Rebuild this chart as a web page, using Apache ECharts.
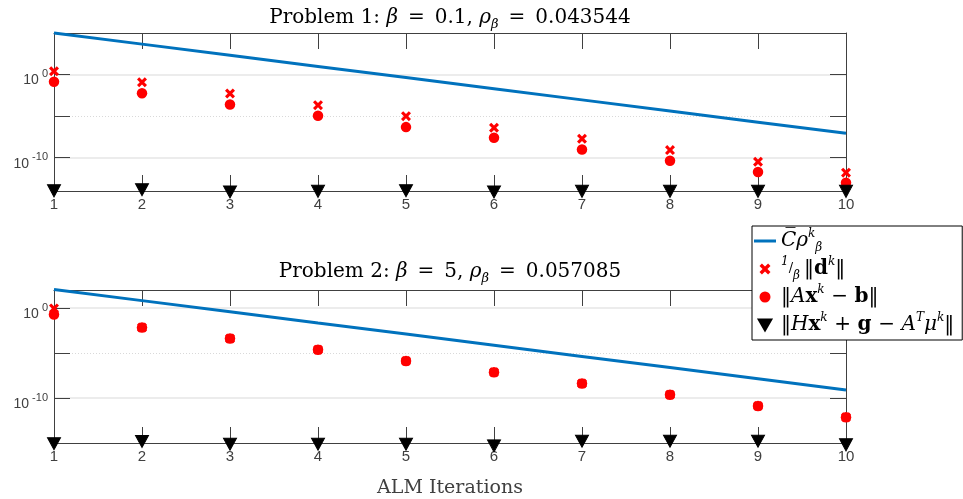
<!DOCTYPE html>
<html><head><meta charset="utf-8">
<script src="https://cdn.jsdelivr.net/npm/echarts@6/dist/echarts.min.js"></script>
<style>html,body{margin:0;padding:0;background:#fff}#c{width:963px;height:499px}</style>
</head><body><div id="c"></div>
<script>
// ---- data ----
const iterations = [1, 2, 3, 4, 5, 6, 7, 8, 9, 10];
const xTickValues = [1, 2, 3, 4, 5, 6, 7, 8, 9, 10];

// Problem 1 (beta = 0.1, rho = 0.043544)
const p1Bound = [1.0e5, 4.6e3, 2.1e2, 9.5, 0.44, 2.0e-2, 9.1e-4, 4.2e-5, 1.9e-6, 8.7e-8];
const p1Dual  = [2.5, 1.2e-1, 5.2e-3, 2.1e-4, 1.0e-5, 4.0e-7, 1.9e-8, 8.3e-10, 3.3e-11, 1.6e-12];
const p1Feas  = [1.4e-1, 5.8e-3, 2.5e-4, 1.1e-5, 4.8e-7, 2.5e-8, 1.0e-9, 4.4e-11, 1.9e-12, 1.0e-13];
const p1Stat  = [1.05e-14, 1.4e-14, 7.6e-15, 9.1e-15, 1.1e-14, 7.6e-15, 9.1e-15, 9.1e-15, 9.1e-15, 9.1e-15];

// Problem 2 (beta = 5, rho = 0.057085)
const p2Bound = [1.15e2, 6.6, 3.8e-1, 2.2e-2, 1.3e-3, 7.2e-5, 4.2e-6, 2.4e-7, 1.4e-8, 7.9e-10];
const p2Dual  = [0.9, 6.6e-3, 4.0e-4, 2.3e-5, 1.3e-6, 7.2e-8, 4.1e-9, 2.3e-10, 1.3e-11, 7.2e-13];
const p2Feas  = [1.9e-1, 6.6e-3, 4.0e-4, 2.3e-5, 1.3e-6, 7.2e-8, 4.1e-9, 2.3e-10, 1.3e-11, 7.2e-13];
const p2Stat  = [8.5e-16, 1.45e-15, 7.2e-16, 7.2e-16, 7.2e-16, 4.8e-16, 1.6e-15, 1.6e-15, 1.6e-15, 6.3e-16];

const yRange1 = [1e-14, 1e5];
const yRange2 = [1e-15, 1e2];
const yTicks1 = [1e-10, 1e-5, 1, 1e5];
const yTicks2 = [1e-15, 1e-10, 1e-5, 1];
const yLabels = [1e-10, 1];
const ySolidGrid = [1e-10, 1];
const yDottedGrid = [1e-5];

const titles = [
  'Problem 1: {it|β}\u2002=\u20020.1, {it|ρ}{sub|β}\u2002=\u20020.043544',
  'Problem 2: {it|β}\u2002=\u20025, {it|ρ}{sub|β}\u2002=\u20020.057085'
];
const seriesNames = ['bound', 'dual', 'feas', 'stat'];
const legendLabels = {
  bound: '{ov|C\u0305}{it|ρ}{sup|k}{sub|β}',
  dual: '{sup|1}{fr|/}{sub|β}\u2009‖{bd|d}{sup|k}‖',
  feas: '‖{it|A}{bd|x}{sup|k}\u2004−\u2004{bd|b}‖',
  stat: '‖{it|H}{bd|x}{sup|k}\u2004+\u2004{bd|g}\u2004−\u2004{it|A}{sup|T}{it|μ}{sup|k}‖'
};

// ---- styling ----
const AX = '#404040';
const SERIF = 'DejaVu Serif';
const SANS = 'Liberation Sans';
const BLUE = '#0072BD';
const RED = '#FF0000';
const X_PATH = 'path://M0,2.2 L2.2,0 L5,2.8 L7.8,0 L10,2.2 L7.2,5 L10,7.8 L7.8,10 L5,7.2 L2.2,10 L0,7.8 L2.8,5 Z';
const TRI_PATH = 'path://M0,0 L12,0 L6,10.4 Z';
const LINE_ICON = 'path://M0,0 L22,0 L22,3 L0,3 Z';

const grids = [
  {left: 54, right: 117, top: 33, height: 158},
  {left: 54, right: 117, top: 290, height: 159}
];

const xAxes = [];
const yAxes = [];
[0, 1].forEach(g => {
  const base = {
    gridIndex: g, type: 'value', min: 1, max: 10, interval: 1,
    axisLine: {show: true, lineStyle: {color: AX, width: 1}},
    axisTick: {show: true, inside: true, length: 16, lineStyle: {color: AX}},
    splitLine: {show: false}
  };
  xAxes.push(Object.assign({}, base, {
    position: 'bottom',
    axisLabel: {show: true, color: AX, fontFamily: SANS, fontSize: 15, margin: 6,
      customValues: xTickValues},
    name: g === 1 ? 'ALM Iterations' : '',
    nameLocation: 'middle', nameGap: 36,
    nameTextStyle: {fontFamily: SERIF, fontSize: 19, color: AX}
  }));
  xAxes.push(Object.assign({}, base, {position: 'top', axisLabel: {show: false}}));

  const range = g === 0 ? yRange1 : yRange2;
  const ticks = g === 0 ? yTicks1 : yTicks2;
  const ybase = {
    gridIndex: g, type: 'log', logBase: 10, min: range[0], max: range[1]
  };
  yAxes.push(Object.assign({}, ybase, {
    position: 'left',
    axisLine: {show: true, lineStyle: {color: AX}},
    axisTick: {show: true, inside: true, length: 16, customValues: ticks, lineStyle: {color: AX}},
    axisLabel: {show: true, customValues: yLabels, margin: 6, color: AX, fontFamily: SANS,
      formatter: v => '{b|10}{sup|' + Math.round(Math.log10(v)) + '}',
      rich: {
        b: {fontSize: 14, lineHeight: 12, padding: [5, 0, 0, 0], verticalAlign: 'top', color: AX, fontFamily: SANS},
        sup: {fontSize: 11, lineHeight: 11, padding: [0, 0, 6, 3], verticalAlign: 'top', color: AX, fontFamily: SANS}
      }},
    splitLine: {show: false}
  }));
  yAxes.push(Object.assign({}, ybase, {
    position: 'right',
    axisLine: {show: true, lineStyle: {color: AX}},
    axisTick: {show: true, inside: true, length: 16, customValues: ticks, lineStyle: {color: AX}},
    axisLabel: {show: false},
    splitLine: {show: false}
  }));
  yAxes.push(Object.assign({}, ybase, {
    position: 'left',
    axisLine: {show: false},
    axisTick: {show: false, customValues: ySolidGrid},
    axisLabel: {show: false},
    splitLine: {show: true, lineStyle: {color: '#e6e6e6', width: 1.5}}
  }));
  yAxes.push(Object.assign({}, ybase, {
    position: 'left',
    axisLine: {show: false},
    axisTick: {show: false, customValues: yDottedGrid},
    axisLabel: {show: false},
    splitLine: {show: true, lineStyle: {color: '#d9d9d9', width: 1, type: [1, 2]}}
  }));
});

function pairs(vals) { return iterations.map((k, i) => [k, vals[i]]); }

const series = [];
const sets = [[p1Bound, p1Dual, p1Feas, p1Stat], [p2Bound, p2Dual, p2Feas, p2Stat]];
sets.forEach((s, g) => {
  const xi = g * 2, yi = g * 4;
  series.push({
    name: 'bound', type: 'line', xAxisIndex: xi, yAxisIndex: yi, data: pairs(s[0]),
    symbol: 'none', clip: false, lineStyle: {color: BLUE, width: 3}, itemStyle: {color: BLUE}, z: 3
  });
  series.push({
    name: 'dual', type: 'scatter', xAxisIndex: xi, yAxisIndex: yi, data: pairs(s[1]),
    symbol: X_PATH, symbolSize: 10, clip: false, itemStyle: {color: RED, opacity: 1}, z: 4
  });
  series.push({
    name: 'feas', type: 'scatter', xAxisIndex: xi, yAxisIndex: yi, data: pairs(s[2]),
    symbol: 'circle', symbolSize: 10.5, clip: false, itemStyle: {color: RED, opacity: 1}, z: 5
  });
  series.push({
    name: 'stat', type: 'scatter', xAxisIndex: xi, yAxisIndex: yi, data: pairs(s[3]),
    symbol: TRI_PATH, symbolSize: [13, 12], clip: false,
    itemStyle: {color: '#000', borderColor: '#000', borderWidth: 1, borderJoin: 'miter', opacity: 1}, z: 6
  });
});

const titleRich = {
  it: {fontStyle: 'italic', fontFamily: SERIF, fontSize: 20, color: '#000'},
  sub: {fontStyle: 'italic', fontFamily: SERIF, fontSize: 13, lineHeight: 13, verticalAlign: 'bottom', color: '#000'}
};
const legendRich = {
  it: {fontStyle: 'italic', fontFamily: SERIF, fontSize: 20, color: '#000'},
  ov: {fontStyle: 'italic', fontFamily: SERIF, fontSize: 20, color: '#000'},
  bd: {fontWeight: 'bold', fontFamily: SERIF, fontSize: 20, color: '#000'},
  fr: {fontFamily: SERIF, fontSize: 13, color: '#000'},
  sup: {fontStyle: 'italic', fontFamily: SERIF, fontSize: 12, lineHeight: 12, verticalAlign: 'top', color: '#000'},
  sub: {fontStyle: 'italic', fontFamily: SERIF, fontSize: 12, lineHeight: 12, verticalAlign: 'bottom', color: '#000'}
};

const option = {
  animation: false,
  backgroundColor: '#fff',
  title: [
    {text: titles[0], left: 445, top: 0, textAlign: 'center',
      textStyle: {fontFamily: SERIF, fontWeight: 'normal', fontSize: 20, color: '#000', lineHeight: 26, rich: titleRich}},
    {text: titles[1], left: 445, top: 254, textAlign: 'center',
      textStyle: {fontFamily: SERIF, fontWeight: 'normal', fontSize: 20, color: '#000', lineHeight: 26, rich: titleRich}}
  ],
  grid: grids,
  xAxis: xAxes,
  yAxis: yAxes,
  legend: {
    data: [
      {name: 'bound', icon: LINE_ICON},
      {name: 'dual'},
      {name: 'feas'},
      {name: 'stat'}
    ],
    orient: 'vertical', left: 752, top: 226,
    backgroundColor: '#fff', borderColor: '#000', borderWidth: 1,
    padding: [2, 8, 2, 2], itemGap: 2, itemWidth: 22, itemHeight: 11,
    selectedMode: false,
    formatter: n => legendLabels[n],
    textStyle: {fontFamily: SERIF, fontSize: 20, color: '#000', lineHeight: 26, rich: legendRich}
  },
  series: series
};
const chart = echarts.init(document.getElementById('c'));
chart.setOption(option);
</script></body></html>
